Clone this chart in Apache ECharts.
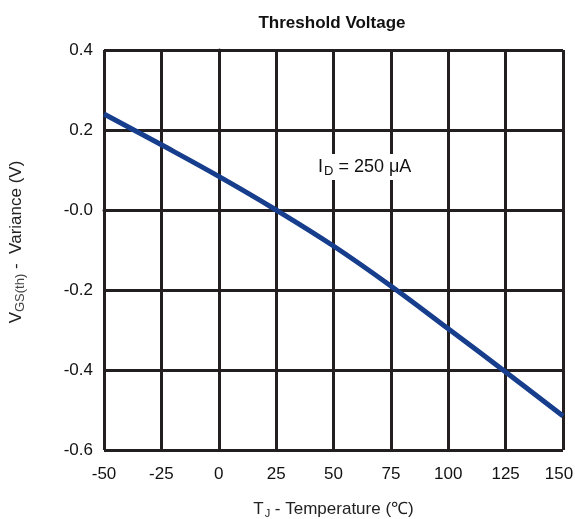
<!DOCTYPE html>
<html>
<head>
<meta charset="utf-8">
<script src="https://cdn.jsdelivr.net/npm/echarts@6/dist/echarts.min.js"></script>
<style>
  html, body { margin: 0; padding: 0; background: #fff; }
  #chart { width: 575px; height: 519px; }
</style>
</head>
<body>
<div id="chart"></div>
<script>
// Junction temperature (°C) and threshold-voltage variance (V)
const temperatures = [-50, -25, 0, 25, 50, 75, 100, 125, 150];
const variance = [0.24, 0.163, 0.084, 0.0, -0.09, -0.19, -0.297, -0.405, -0.515];
const yTickLabels = { '0.4': '0.4', '0.2': '0.2', '0': '-0.0', '-0.2': '-0.2', '-0.4': '-0.4', '-0.6': '-0.6' };

const FONT = 'Liberation Sans, Arial, sans-serif';
const GRID_COLOR = '#231f20';
const X_MAX = 150;

const chart = echarts.init(document.getElementById('chart'));
chart.setOption({
  backgroundColor: '#fff',
  animation: false,
  title: {
    text: 'Threshold Voltage',
    left: 327,
    top: 10,
    textAlign: 'center',
    textStyle: { fontFamily: FONT, fontSize: 17, fontWeight: 'bold', color: '#111' }
  },
  grid: { left: 104, right: 12, top: 50, bottom: 69, containLabel: false, outerBoundsMode: 'none' },
  xAxis: {
    type: 'value',
    min: -50, max: X_MAX, interval: 25,
    axisLine: { show: true, lineStyle: { color: GRID_COLOR, width: 3 } },
    axisTick: { show: false },
    splitLine: { show: true, lineStyle: { color: GRID_COLOR, width: 3 } },
    axisLabel: {
      fontFamily: FONT, fontSize: 17, color: '#111', margin: 16,
      // keep the last label inside the canvas
      formatter: v => v === X_MAX ? '{m|' + v + '}' : String(v),
      rich: { m: { fontFamily: FONT, fontSize: 17, color: '#111', padding: [0, 8, 0, 0] } }
    },
    name: '{a|T}{sub|J}{a| - Temperature (℃)}',
    nameLocation: 'middle',
    nameGap: 49,
    nameTextStyle: {
      rich: {
        a: { fontFamily: FONT, fontSize: 17, color: '#222' },
        sub: { fontFamily: FONT, fontSize: 11, color: '#222', padding: [9, 0, 0, 1] }
      }
    }
  },
  yAxis: {
    type: 'value',
    min: -0.6, max: 0.4, interval: 0.2,
    axisLine: { show: true, lineStyle: { color: GRID_COLOR, width: 3 } },
    axisTick: { show: false },
    splitLine: { show: true, lineStyle: { color: GRID_COLOR, width: 3 } },
    axisLabel: {
      fontFamily: FONT, fontSize: 17, color: '#111', margin: 11,
      formatter: v => yTickLabels[String(Math.round(v * 10) / 10)] ?? v.toFixed(1)
    },
    name: '{a|V}{sub|GS(th)}{a| -  Variance (V)}',
    nameLocation: 'middle',
    nameGap: 77,
    nameTextStyle: {
      padding: [0, 0, 0, 16],
      rich: {
        a: { fontFamily: FONT, fontSize: 17, color: '#222' },
        sub: { fontFamily: FONT, fontSize: 13, color: '#444', padding: [8, 0, 0, 0] }
      }
    }
  },
  graphic: [{
    type: 'text',
    left: 316,
    top: 154,
    style: {
      text: '{a|I}{sub|D}{a| = 250 μA}',
      backgroundColor: '#fff',
      padding: [2, 2, 2, 2],
      rich: {
        a: { fontFamily: FONT, fontSize: 18, fill: '#111' },
        sub: { fontFamily: FONT, fontSize: 13, fill: '#111', padding: [9, 0, 0, 1] }
      }
    },
    z: 10
  }],
  series: [{
    type: 'line',
    data: temperatures.map((t, i) => [t, variance[i]]),
    smooth: 0.4,
    symbol: 'none',
    lineStyle: { color: '#173e8d', width: 5 },
    z: 5
  }]
});
</script>
</body>
</html>
